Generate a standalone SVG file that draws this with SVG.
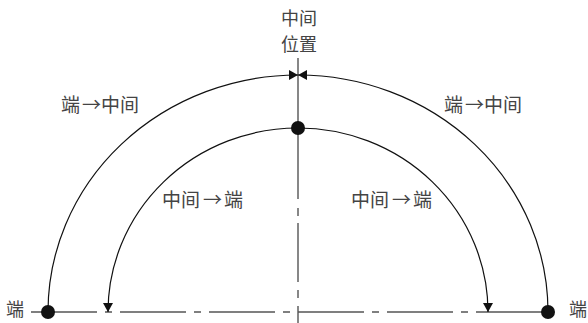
<svg xmlns="http://www.w3.org/2000/svg" width="588" height="323" viewBox="0 0 588 323">
<style>
  .t { font-family: "Noto Sans CJK SC", "Noto Sans", sans-serif; font-size: 19px; fill: #444; }
  .s { font-size: 18px; }
  .arc { fill: none; stroke: #111; stroke-width: 1.2; }
  .axis { fill: none; stroke: #555; stroke-width: 1.4; }
  .dot { fill: #111; }
</style>
<defs>
  <marker id="ah" viewBox="0 0 9 10" refX="9" refY="5" markerWidth="9" markerHeight="10" markerUnits="userSpaceOnUse" orient="auto">
    <path d="M0,0 L9,5 L0,10 z" fill="#111"/>
  </marker>
</defs>
<g id="axes">
  <path class="axis" d="M31,312 H548" stroke-dasharray="66 8 7 8"/>
  <path class="axis" d="M298,58 V323" stroke-dasharray="141 9 8 7 59 8 8 8 100"/>
</g>
<g id="connectors">
  <path class="arc" d="M48,312 A250,237 0 0 1 298,75" marker-end="url(#ah)"/>
  <path class="arc" d="M548,312 A250,237 0 0 0 298,75" marker-end="url(#ah)"/>
  <path class="arc" d="M298,128 A190,184 0 0 0 108,312" marker-end="url(#ah)"/>
  <path class="arc" d="M298,128 A190,184 0 0 1 488,312" marker-end="url(#ah)"/>
</g>
<g id="node-left-end">
  <circle class="dot" cx="48" cy="312" r="7"/>
  <text class="t s" x="6" y="316">端</text>
</g>
<g id="node-right-end">
  <circle class="dot" cx="548" cy="312" r="7"/>
  <text class="t s" x="569" y="316">端</text>
</g>
<g id="node-middle">
  <circle class="dot" cx="298" cy="128" r="7"/>
  <text class="t s" x="299" y="25" text-anchor="middle">中间</text>
  <text class="t s" x="299" y="51" text-anchor="middle">位置</text>
</g>
<g id="labels">
  <text class="t" y="112"><tspan x="61">端</tspan><tspan x="82">→</tspan><tspan x="101">中间</tspan></text>
  <text class="t" y="112"><tspan x="444">端</tspan><tspan x="465">→</tspan><tspan x="484">中间</tspan></text>
  <text class="t" y="207"><tspan x="162">中间</tspan><tspan x="203">→</tspan><tspan x="224">端</tspan></text>
  <text class="t" y="207"><tspan x="351">中间</tspan><tspan x="392">→</tspan><tspan x="413">端</tspan></text>
</g>
</svg>
